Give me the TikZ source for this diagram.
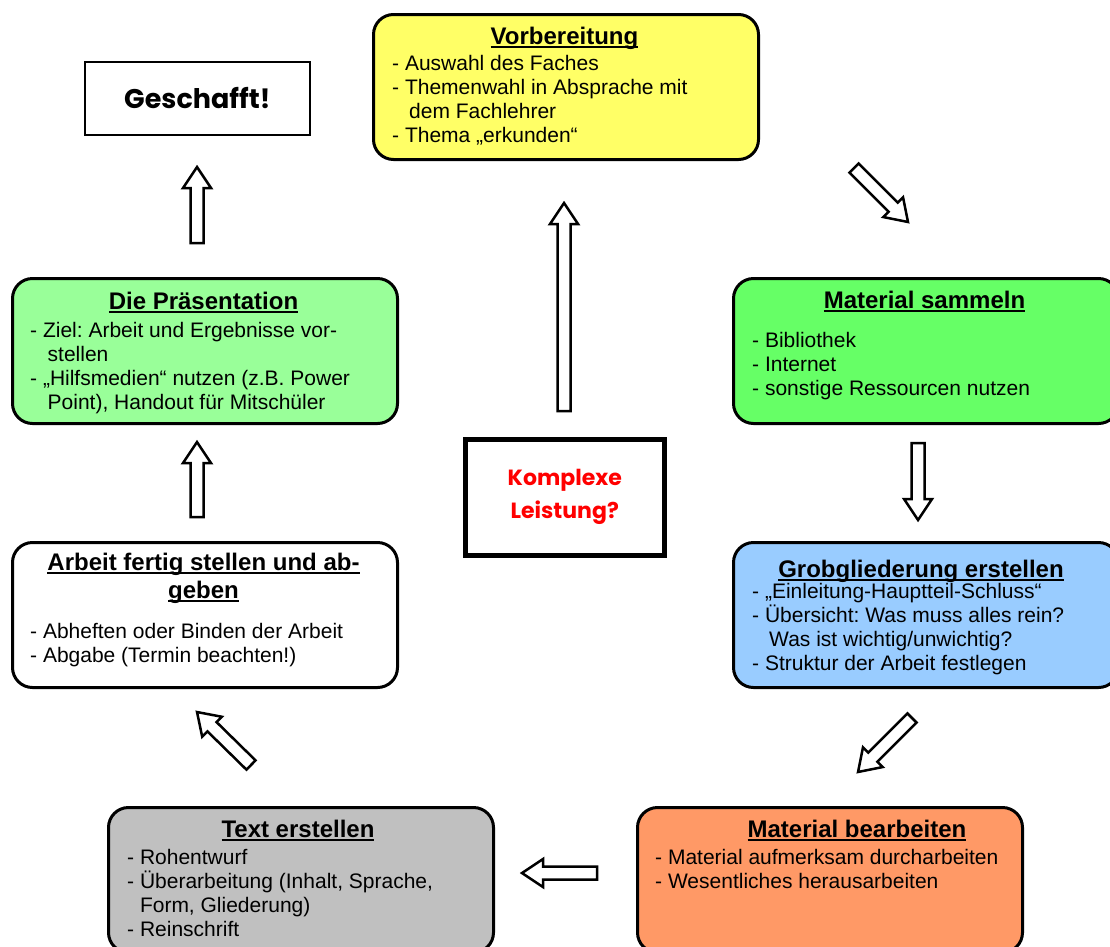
\documentclass[tikz,border=0pt]{standalone}
\usepackage{fontspec}
\setmainfont{Liberation Sans}
\newfontfamily\comicfont{Poppins}
\usetikzlibrary{calc}
\definecolor{vorbgelb}{RGB}{255,255,102}
\definecolor{sammgruen}{RGB}{102,255,102}
\definecolor{praesgruen}{RGB}{153,255,153}
\definecolor{gliedblau}{RGB}{153,204,255}
\definecolor{bearborange}{RGB}{255,153,102}
\definecolor{textgrau}{RGB}{192,192,192}
\definecolor{komplexrot}{RGB}{255,0,0}

\newcommand{\titelfont}{\fontsize{24}{28}\selectfont\bfseries}
\newcommand{\inhaltfont}{\fontsize{21}{24}\selectfont\frenchspacing}
\newcommand{\ustrich}[1]{\setbox0=\hbox{#1}\rlap{\rule[-3.5pt]{\wd0}{1.6pt}}\box0}
\newcommand{\hohlpfeil}[2]{%
  \pgfpointdiff{\pgfpointanchor{#1}{center}}{\pgfpointanchor{#2}{center}}%
  \pgfgetlastxy{\pdx}{\pdy}%
  \pgfmathsetmacro{\pwinkel}{atan2(\pdy,\pdx)}%
  \pgfmathsetmacro{\plaenge}{veclen(\pdx,\pdy)}%
  \begin{scope}[shift={(#1)}, rotate=\pwinkel, x=1pt, y=1pt]
    \draw[pfeil] (0,-6.5) -- ({\plaenge-21},-6.5) -- ({\plaenge-21},-14) -- (\plaenge,0)
      -- ({\plaenge-21},14) -- ({\plaenge-21},6.5) -- (0,6.5) -- cycle;
  \end{scope}}

\begin{document}
\begin{tikzpicture}[x=1pt, y=-1pt,
    kasten/.style={draw, line width=3pt, rounded corners=20pt, minimum width=385pt,
      minimum height=145pt, inner sep=0pt, anchor=north west},
    titel/.style={font=\titelfont, anchor=base, inner sep=0pt, align=center},
    inhalt/.style={font=\inhaltfont, anchor=base west, inner sep=0pt, align=left},
    pfeil/.style={draw, fill=white, line width=2.5pt, line join=miter}]
    \clip (0,0) rectangle (1110,946);

    % Kaesten (Text: Grundlinie der letzten Zeile)
    \node[kasten, fill=vorbgelb] (vorb) at (372,13) {};
    \node[titel] (vorb-t) at (564.5,44) {\ustrich{Vorbereitung}};
    \node[inhalt] (vorb-i) at (392,142) {- Auswahl des Faches\\- Themenwahl in Absprache mit\\\hspace*{17pt}dem Fachlehrer\\- Thema „erkunden“};

    \node[kasten, fill=sammgruen] (samm) at (732,277) {};
    \node[titel] (samm-t) at (924.5,308) {\ustrich{Material sammeln}};
    \node[inhalt] (samm-i) at (752,395) {- Bibliothek\\- Internet\\- sonstige Ressourcen nutzen};

    \node[kasten, fill=gliedblau] (glied) at (732,541) {};
    \node[titel] (glied-t) at (921,577) {\ustrich{Grobgliederung erstellen}};
    \node[inhalt] (glied-i) at (752,670) {- „Einleitung-Hauptteil-Schluss“\\- Übersicht: Was muss alles rein?\\\hspace*{17pt}Was ist wichtig/unwichtig?\\- Struktur der Arbeit festlegen};

    \node[kasten, fill=bearborange] (bearb) at (636,806) {};
    \node[titel] (bearb-t) at (857,837) {\ustrich{Material bearbeiten}};
    \node[inhalt] (bearb-i) at (655,888) {- Material aufmerksam durcharbeiten\\- Wesentliches herausarbeiten};

    \node[kasten, fill=textgrau] (text) at (107,806) {};
    \node[titel] (text-t) at (298,837) {\ustrich{Text erstellen}};
    \node[inhalt] (text-i) at (127,936) {- Rohentwurf\\- Überarbeitung (Inhalt, Sprache,\\\hspace*{12.8pt}Form, Gliederung)\\- Reinschrift};

    \node[kasten, fill=white] (arbeit) at (11,541) {};
    \node[titel] (arbeit-t) at (203.5,598) {\ustrich{Arbeit fertig stellen und ab-}\\\ustrich{geben}};
    \node[inhalt] (arbeit-i) at (30,662) {- Abheften oder Binden der Arbeit\\- Abgabe (Termin beachten!)};

    \node[kasten, fill=praesgruen] (praes) at (11,277) {};
    \node[titel] (praes-t) at (203.5,309) {\ustrich{Die Präsentation}};
    \node[inhalt] (praes-i) at (30,409) {- Ziel: Arbeit und Ergebnisse vor-\\\hspace*{17.5pt}stellen\\- „Hilfsmedien“ nutzen (z.B. Power\\\hspace*{17.5pt}Point), Handout für Mitschüler};

    \node[draw, line width=1.6pt, minimum width=225pt, minimum height=73pt, anchor=north west,
      inner sep=0pt, font=\comicfont\bfseries\fontsize{27}{30}\selectfont] (fertig) at (84,61) {Geschafft!};
    \node[draw, line width=4.5pt, minimum width=199pt, minimum height=116pt, anchor=north west,
      inner sep=0pt, align=center, text=komplexrot,
      font=\comicfont\bfseries\fontsize{22}{33}\selectfont] (komplex) at (463,437) {Komplexe\\Leistung?};

    % Pfeile
    \coordinate (komplex-vorb-s) at (564,411);
    \coordinate (komplex-vorb-e) at (564,203);
    \coordinate (vorb-samm-s) at (854,168);
    \coordinate (vorb-samm-e) at (908,222);
    \coordinate (samm-glied-s) at (918,443);
    \coordinate (samm-glied-e) at (918,520);
    \coordinate (glied-bearb-s) at (912,718);
    \coordinate (glied-bearb-e) at (858,772);
    \coordinate (bearb-text-s) at (597,873);
    \coordinate (bearb-text-e) at (522,873);
    \coordinate (text-arbeit-s) at (251,765);
    \coordinate (text-arbeit-e) at (197,712);
    \coordinate (arbeit-praes-s) at (197,517);
    \coordinate (arbeit-praes-e) at (197,442);
    \coordinate (praes-fertig-s) at (197,243);
    \coordinate (praes-fertig-e) at (197,167);

    \hohlpfeil{komplex-vorb-s}{komplex-vorb-e}
    \hohlpfeil{vorb-samm-s}{vorb-samm-e}
    \hohlpfeil{samm-glied-s}{samm-glied-e}
    \hohlpfeil{glied-bearb-s}{glied-bearb-e}
    \hohlpfeil{bearb-text-s}{bearb-text-e}
    \hohlpfeil{text-arbeit-s}{text-arbeit-e}
    \hohlpfeil{arbeit-praes-s}{arbeit-praes-e}
    \hohlpfeil{praes-fertig-s}{praes-fertig-e}
\end{tikzpicture}
\end{document}
